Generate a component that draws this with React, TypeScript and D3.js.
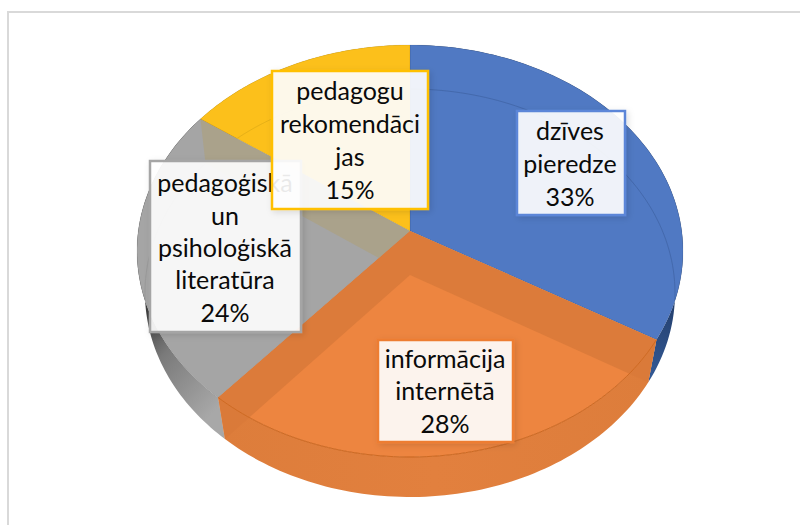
import React from "react";
import * as d3 from "d3";

const categories = ["dzīves pieredze", "informācija internētā", "pedagoģiskā un psiholoģiskā literatūra", "pedagogu rekomendācijas"];
const values = [33.45, 27.9, 23.5, 15.15];
const labelLines = [["dzīves", "pieredze"], ["informācija", "internētā"], ["pedagoģiskā", "un", "psiholoģiskā", "literatūra"], ["pedagogu", "rekomendāci", "jas"]];
const faceColors = ["#5079c3", "#ed8540", "#a5a5a5", "#fcc01b"];
const borderColors = ["#5b86d8", "#ed7d31", "#a5a5a5", "#ffc000"];

const W = 800, H = 525, CX = 410;
const topRing = { cy: 251, rx: 273, ry: 206, off: 20 };
const botRing = { cy: 293, rx: 265, ry: 204, off: 18 };
type Ring = typeof topRing;

const project = (r: Ring, t: number): [number, number] => {
  const k = r.off / r.ry;
  const x = Math.sin(t), y = Math.cos(t);
  const d = 1 + k * y;
  return [CX + (r.rx * Math.sqrt(1 - k * k) * x) / d, r.cy - (r.ry * y + r.off) / d];
};
const apex = (r: Ring): [number, number] => [CX, r.cy - r.off];
const arcPts = (r: Ring, a: number, b: number) =>
  d3.range(0, 81).map((i) => project(r, a + ((b - a) * i) / 80));
const line = d3.line<[number, number]>();
const closed = (p: [number, number][]) => (line(p) || "") + "Z";

const arcs = d3.pie<number>().sort(null)(values);
const sector = (r: Ring, i: number) => closed([apex(r), ...arcPts(r, arcs[i].startAngle, arcs[i].endAngle)]);
const wall = (i: number) =>
  closed([...arcPts(topRing, arcs[i].startAngle, arcs[i].endAngle), ...arcPts(botRing, arcs[i].startAngle, arcs[i].endAngle).reverse()]);
const radial = (t: number) => closed([apex(topRing), project(topRing, t), project(botRing, t), apex(botRing)]);

const boxes = [
  { x: 517, y: 111, w: 108, h: 104, cx: 570, base: [140, 173, 206] },
  { x: 378, y: 340, w: 135, h: 102, cx: 445, base: [368, 400, 433] },
  { x: 150, y: 161, w: 151, h: 171, cx: 225, base: [192, 225, 257, 289, 322] },
  { x: 272, y: 71, w: 156, h: 138, cx: 350, base: [100, 133, 166, 199] },
];
const boxOrder = [0, 1, 2, 3];

export default function App() {
  const [blue, orange, grey, yellow] = [0, 1, 2, 3];
  return (
    <svg width={W} height={H} viewBox={`0 0 ${W} ${H}`} style={{ position: "absolute", left: 0, top: 0, background: "#fff" }}>
      <defs>
        <linearGradient id="greyWall" gradientUnits="userSpaceOnUse" x1="140" y1="320" x2="225" y2="400">
          <stop offset="0" stopColor="#3f3f3f" />
          <stop offset="0.35" stopColor="#7a7a7a" />
          <stop offset="1" stopColor="#a8a8a8" />
        </linearGradient>
        <linearGradient id="blueWall" gradientUnits="userSpaceOnUse" x1="680" y1="300" x2="650" y2="380">
          <stop offset="0" stopColor="#233e6b" />
          <stop offset="1" stopColor="#345a96" />
        </linearGradient>
        <linearGradient id="orangeWall" gradientUnits="userSpaceOnUse" x1="220" y1="0" x2="650" y2="0">
          <stop offset="0" stopColor="#dd7d3b" />
          <stop offset="0.5" stopColor="#e2803e" />
          <stop offset="1" stopColor="#dd7d3b" />
        </linearGradient>
        <clipPath id="clipOrange"><path d={sector(topRing, orange)} /></clipPath>
        <clipPath id="clipGrey"><path d={sector(topRing, grey)} /></clipPath>
        <clipPath id="clipBlue"><path d={sector(topRing, blue)} /></clipPath>
        <clipPath id="clipYellow"><path d={sector(topRing, yellow)} /></clipPath>
        <filter id="shadow" x="-20%" y="-20%" width="140%" height="140%">
          <feDropShadow dx="2" dy="2" stdDeviation="3" floodColor="#000" floodOpacity="0.13" />
        </filter>
      </defs>

      <path d="M8 525V12H800" fill="none" stroke="#d9d9d9" strokeWidth={2} />

      <path d={wall(yellow)} fill="#d9a617" />
      <path d={wall(grey)} fill="url(#greyWall)" />
      <path d={wall(blue)} fill="url(#blueWall)" />
      <path d={wall(orange)} fill="url(#orangeWall)" />

      {arcs.map((_, i) => (
        <path key={categories[i]} d={sector(topRing, i)} fill={faceColors[i]} stroke="#000" strokeOpacity={0.1} strokeWidth={0.8} />
      ))}

      <g clipPath="url(#clipGrey)">
        <path d={radial(arcs[yellow].startAngle)} fill="#aaa28b" />
      </g>
      <path d={radial(arcs[orange].startAngle)} fill="#d97a3a" fillOpacity={0.9} />
      <path d={radial(arcs[orange].endAngle)} fill="#d97a3a" fillOpacity={0.9} />
      <path d={line(arcPts(topRing, arcs[orange].startAngle, arcs[orange].endAngle)) || ""} fill="none" stroke="#cf6a22" strokeWidth={1} />

      <path clipPath="url(#clipBlue)" d={line(arcPts(botRing, arcs[blue].startAngle, arcs[blue].endAngle)) || ""} fill="none" stroke="#3f63a3" strokeOpacity={0.7} strokeWidth={1} />
      <path clipPath="url(#clipYellow)" d={line(arcPts(botRing, arcs[yellow].startAngle, arcs[yellow].endAngle)) || ""} fill="none" stroke="#d9a617" strokeOpacity={0.6} strokeWidth={1} />
      <path clipPath="url(#clipGrey)" d={line(arcPts(botRing, arcs[grey].startAngle, arcs[grey].endAngle)) || ""} fill="none" stroke="#8f8f8f" strokeOpacity={0.5} strokeWidth={1} />

      {boxOrder.map((i) => {
        const b = boxes[i];
        const lines = [...labelLines[i], `${Math.round(values[i])}%`];
        return (
          <g key={i}>
            <rect x={b.x} y={b.y} width={b.w} height={b.h} fill="#fff" fillOpacity={0.9} stroke={borderColors[i]} strokeWidth={2.5} filter="url(#shadow)" />
            {lines.map((t, j) => (
              <text key={j} x={b.cx} y={b.base[j]} textAnchor="middle" fontFamily="Lato, 'Open Sans', sans-serif" fontSize={25} fill="#0a0a0a">{t}</text>
            ))}
          </g>
        );
      })}
    </svg>
  );
}
